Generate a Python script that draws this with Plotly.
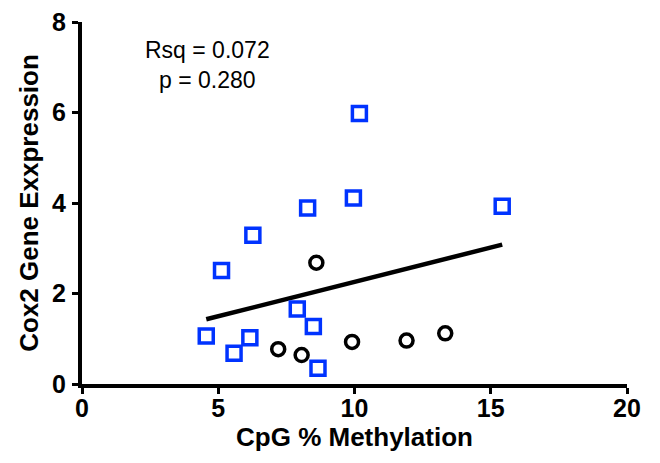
import plotly.graph_objects as go

# Data
blue_x = [10.18, 9.96, 8.28, 15.42, 6.27, 5.12, 7.90, 8.49, 4.56, 6.16, 5.58, 8.66]
blue_y = [5.98, 4.11, 3.89, 3.93, 3.29, 2.51, 1.66, 1.27, 1.06, 1.02, 0.68, 0.35]
black_x = [8.60, 7.20, 8.06, 9.91, 11.91, 13.33]
black_y = [2.68, 0.77, 0.64, 0.93, 0.96, 1.12]
fit_x = [4.56, 15.42]
fit_y = [1.43, 3.08]
x_ticks = [0, 5, 10, 15, 20]
y_ticks = [0, 2, 4, 6, 8]
stats_text = "Rsq = 0.072<br>p = 0.280"

BLUE = "#0033FF"
FONT = "Liberation Sans, Arial, Helvetica, sans-serif"

fig = go.Figure()
fig.add_trace(go.Scatter(
    x=fit_x, y=fit_y, mode="lines",
    line=dict(color="black", width=4.5), showlegend=False, hoverinfo="skip"))
fig.add_trace(go.Scatter(
    x=blue_x, y=blue_y, mode="markers",
    marker=dict(symbol="square-open", size=14, color=BLUE, line=dict(color=BLUE, width=3.5)),
    showlegend=False))
fig.add_trace(go.Scatter(
    x=black_x, y=black_y, mode="markers",
    marker=dict(symbol="circle-open", size=13, color="black", line=dict(color="black", width=3.5)),
    showlegend=False))

fig.add_annotation(
    x=4.62, y=7.05, xref="x", yref="y", text=stats_text, showarrow=False,
    font=dict(family=FONT, size=23, color="black"), align="center")

fig.update_layout(
    width=660, height=463,
    margin=dict(l=82, r=33, t=22, b=79),
    paper_bgcolor="white", plot_bgcolor="white",
    font=dict(family=FONT, color="black"),
)
fig.update_xaxes(
    range=[0, 20], tickvals=x_ticks, ticktext=[str(v) for v in x_ticks],
    showgrid=False, zeroline=False, automargin=False,
    showline=True, linewidth=4, linecolor="black",
    ticks="outside", ticklen=6, tickwidth=3, tickcolor="black",
    ticklabelstandoff=-7,
    tickfont=dict(family=FONT, size=25, color="black", weight="bold"),
    title=dict(text="CpG % Methylation", standoff=8,
               font=dict(family=FONT, size=26, color="black", weight="bold")),
)
fig.update_yaxes(
    range=[0, 8], tickvals=y_ticks, ticktext=[str(v) for v in y_ticks],
    showgrid=False, zeroline=False, automargin=False,
    showline=True, linewidth=4, linecolor="black",
    ticks="outside", ticklen=6, tickwidth=3, tickcolor="black",
    ticklabelstandoff=1,
    tickfont=dict(family=FONT, size=25, color="black", weight="bold"),
    title=dict(text="Cox2 Gene Exxpression", standoff=7,
               font=dict(family=FONT, size=26, color="black", weight="bold")),
)

fig.write_html("out.html", config={"displayModeBar": False},
               post_script="document.body.style.margin='0';")
